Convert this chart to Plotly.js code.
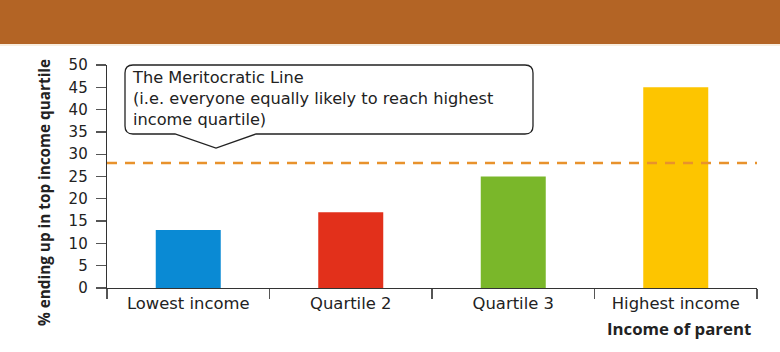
<!DOCTYPE html>
<html>
<head>
<meta charset="utf-8">
<script src="https://cdn.plot.ly/plotly-3.0.1.min.js"></script>
<style>html,body{margin:0;padding:0;background:#fff;}#chart{width:780px;height:352px;}</style>
</head>
<body>
<div id="chart"></div>
<script>
// Data
const categories = ["Lowest income", "Quartile 2", "Quartile 3", "Highest income"];
const values = [13, 17, 25, 45];
const barColors = ["#0A8AD4", "#E2301B", "#7AB72A", "#FDC500"];
const meritocraticLine = 28;
const yTicks = [0, 5, 10, 15, 20, 25, 30, 35, 40, 45, 50];
const calloutText = "The Meritocratic Line<br>(i.e. everyone equally likely to reach highest<br>income quartile)";
const yTitle = "% ending up in top income quartile";
const xTitle = "Income of parent";

// Layout geometry (pixels)
const W = 780, H = 352;
const L = 107, R = 23, T = 65, B = 64;
const PW = W - L - R, PH = H - T - B;
const px = x => (x - L) / PW;
const py = y => (H - B - y) / PH;

// callout path (paper coords)
function calloutPath() {
  const l = 125, r = 533, t = 65, b = 134, rad = 8;
  const p1 = 256, ax = 216, ay = 148, p2 = 175;
  const P = (x, y) => px(x).toFixed(5) + "," + py(y).toFixed(5);
  return "M" + P(l + rad, t) + " L" + P(r - rad, t) + " Q" + P(r, t) + " " + P(r, t + rad) +
    " L" + P(r, b - rad) + " Q" + P(r, b) + " " + P(r - rad, b) +
    " L" + P(p1, b) + " L" + P(ax, ay) + " L" + P(p2, b) +
    " L" + P(l + rad, b) + " Q" + P(l, b) + " " + P(l, b - rad) +
    " L" + P(l, t + rad) + " Q" + P(l, t) + " " + P(l + rad, t) + " Z";
}

const FONT = "DejaVu Sans, Open Sans, sans-serif";
const BFONT = "Open Sans, Noto Sans, DejaVu Sans, sans-serif";

const trace = {
  type: "bar",
  x: categories,
  y: values,
  width: 0.4,
  marker: { color: barColors, line: { width: 0 } },
  hoverinfo: "x+y"
};

const layout = {
  width: W, height: H,
  margin: { l: L, r: R, t: T, b: B },
  paper_bgcolor: "#ffffff",
  plot_bgcolor: "#ffffff",
  showlegend: false,
  font: { family: FONT, color: "#222" },
  xaxis: {
    type: "category",
    showline: true, linecolor: "#333", linewidth: 1.3,
    ticks: "outside", tickson: "boundaries", ticklen: 10, tickcolor: "#555", tickwidth: 1.3,
    tickfont: { size: 16.4, color: "#222", family: FONT },
    showgrid: false, zeroline: false,
    fixedrange: true
  },
  yaxis: {
    range: [0, 50],
    tickvals: yTicks,
    ticktext: yTicks.map(String),
    showline: true, linecolor: "#333", linewidth: 1.3,
    ticks: "outside", ticklen: 10, tickcolor: "#555", tickwidth: 1.3,
    ticklabelstandoff: 5,
    tickfont: { size: 15, color: "#222", family: FONT },
    showgrid: false, zeroline: false,
    automargin: false,
    fixedrange: true
  },
  shapes: [
    { type: "rect", xref: "paper", yref: "paper", x0: px(0), x1: px(W), y0: py(44), y1: py(0),
      fillcolor: "#B36425", line: { width: 0 }, layer: "above" },
    { type: "line", xref: "paper", yref: "paper", x0: px(0), x1: px(W), y0: py(45), y1: py(45),
      line: { color: "#F6E9D6", width: 1.5 }, layer: "above" },
    { type: "line", xref: "paper", yref: "y", x0: 0, x1: 1, y0: meritocraticLine, y1: meritocraticLine,
      line: { color: "#E8922C", width: 2.5, dash: "10px,8px" }, layer: "above" },
    { type: "path", xref: "paper", yref: "paper", path: calloutPath(),
      fillcolor: "#ffffff", line: { color: "#222", width: 1.3 }, layer: "above" }
  ],
  annotations: [
    { xref: "paper", yref: "paper", x: px(130), y: py(66), xanchor: "left", yanchor: "top",
      align: "left", showarrow: false, text: calloutText,
      font: { size: 16.2, color: "#222", family: FONT } },
    { xref: "paper", yref: "paper", x: px(753), y: py(328), xanchor: "right", yanchor: "middle",
      showarrow: false, text: "<b>" + xTitle + "</b>",
      font: { size: 16.8, color: "#222", family: BFONT } },
    { xref: "paper", yref: "paper", x: px(44), y: py(193), xanchor: "center", yanchor: "middle",
      textangle: -90, showarrow: false, text: "<b>" + yTitle + "</b>",
      font: { size: 15.3, color: "#222", family: BFONT } }
  ]
};

Plotly.newPlot("chart", [trace], layout, { displayModeBar: false, staticPlot: true });
</script>
</body>
</html>
